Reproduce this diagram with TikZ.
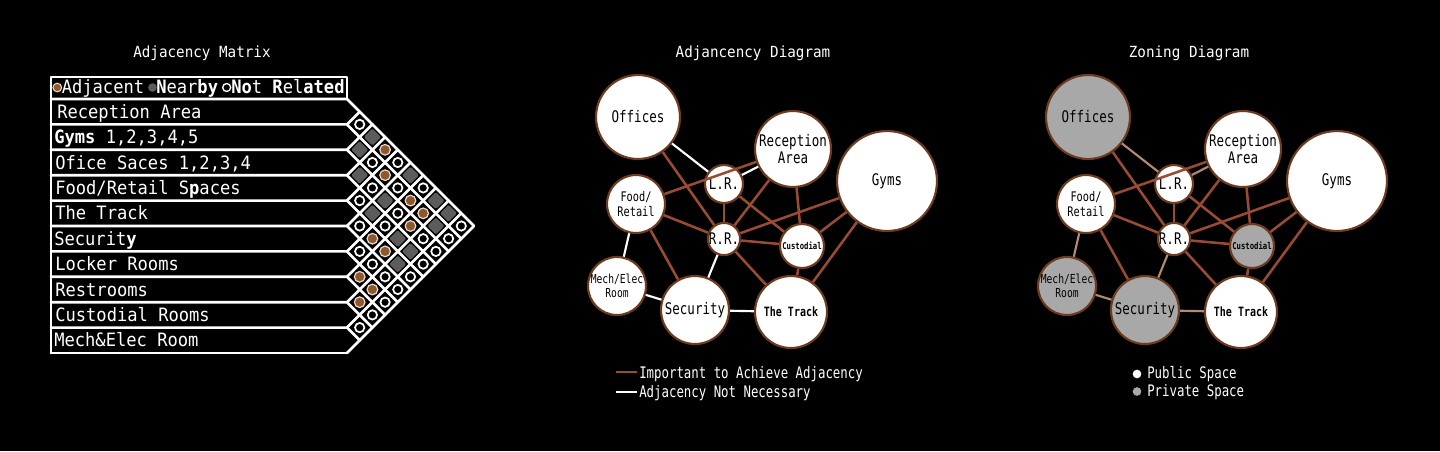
\documentclass[tikz,border=0pt]{standalone}
\usepackage{fontspec}
\setmainfont{DejaVu Sans Mono}
\newfontfamily\mono[FakeStretch=0.93]{DejaVu Sans Mono}
\newfontfamily\cmono[FakeStretch=0.78]{DejaVu Sans Mono}
\usetikzlibrary{shapes.geometric}
\definecolor{edgebrown}{HTML}{9A4B33}
\definecolor{ringbrown}{HTML}{6E3B1E}
\definecolor{adjdot}{HTML}{8A5A2A}
\definecolor{adjring}{HTML}{F3D2D2}
\definecolor{neargrey}{HTML}{5C5C5C}
\definecolor{privgrey}{HTML}{A8A8A8}
\definecolor{weaktan}{HTML}{B58A72}
\tikzset{
  gridline/.style={white, line width=2pt, line join=round, line cap=round},
  rowtext/.style={anchor=base west, inner sep=0pt, text=white, font=\mono\fontsize{13.8}{14}\selectfont},
  titletext/.style={anchor=base, inner sep=0pt, text=white, font=\mono\fontsize{11.5}{12}\selectfont},
  legendtext/.style={anchor=base west, inner sep=0pt, text=white, font=\cmono\fontsize{11.9}{12}\selectfont},
  cellX/.style={circle, draw=white, fill=black, line width=1.3pt, minimum size=7pt, inner sep=0pt},
  cellA/.style={circle, draw=adjring, fill=adjdot, line width=0.9pt, minimum size=8pt, inner sep=0pt},
  cellN/.style={diamond, aspect=1, fill=neargrey, minimum width=13pt, minimum height=13pt, inner sep=0pt, rounded corners=1pt},
  place/.style={circle, draw=ringbrown, line width=1.6pt, inner sep=0pt, text=black, align=center,
                font=\cmono\fontsize{12}{12.5}\selectfont},
  strong/.style={draw=edgebrown, line width=1.9pt},
  weak/.style={line width=1.6pt},
  keydot/.style={circle, inner sep=0pt, minimum size=6.5pt}
}
\newcommand\zdiagram[4]{%
\begin{scope}[xshift=#2]
  \node[place, minimum size=63pt, fill=#3] (#1off) at (638,117) {Offices};
  \node[place, minimum size=43.5pt, fill=white, font=\cmono\fontsize{9.9}{11.25}\selectfont] (#1food) at (636,204) {Food/\\Retail};
  \node[place, minimum size=28.5pt, fill=white] (#1lr) at (724,184) {L.R.};
  \node[place, minimum size=57pt, fill=white] (#1rec) at (793,149) {Reception\\Area};
  \node[place, minimum size=75pt, fill=white] (#1gym) at (887,181) {Gyms};
  \node[place, minimum size=24pt, fill=white] (#1rr) at (724,239) {R.R.};
  \node[place, minimum size=33pt, fill=#3, font=\cmono\bfseries\fontsize{7}{8}\selectfont] (#1cus) at (802,246) {Custodial};
  \node[place, minimum size=43.5pt, fill=#3, font=\cmono\fontsize{9.3}{10}\selectfont] (#1mech) at (617,286) {Mech/Elec\\Room};
  \node[place, minimum size=51pt, fill=#3] (#1sec) at (695,310) {Security};
  \node[place, minimum size=54pt, fill=white, font=\cmono\bfseries\fontsize{9.6}{10}\selectfont] (#1trk) at (791,312) {The Track};
  \draw[strong] (#1off) -- (#1rr);
  \draw[strong] (#1food) -- (#1rec);
  \draw[strong] (#1food) -- (#1rr);
  \draw[strong] (#1food) -- (#1sec);
  \draw[strong] (#1lr) -- (#1rr);
  \draw[strong] (#1lr) -- (#1cus);
  \draw[strong] (#1rr) -- (#1rec);
  \draw[strong] (#1rr) -- (#1gym);
  \draw[strong] (#1rr) -- (#1cus);
  \draw[strong] (#1rr) -- (#1trk);
  \draw[strong] (#1rec) -- (#1cus);
  \draw[strong] (#1gym) -- (#1cus);
  \draw[strong] (#1gym) -- (#1trk);
  \draw[strong] (#1cus) -- (#1trk);
  \draw[weak, draw=#4] (#1off) -- (#1lr);
  \draw[weak, draw=#4] (#1lr) -- (#1rec);
  \draw[weak, draw=#4] (#1food) -- (#1mech);
  \draw[weak, draw=#4] (#1mech) -- (#1sec);
  \draw[weak, draw=#4] (#1sec) -- (#1rr);
  \draw[weak, draw=#4] (#1sec) -- (#1trk);
\end{scope}}
\begin{document}
\begin{tikzpicture}[x=0.75pt, y=-0.75pt]
\fill[black] (0,0) rectangle (1440,451);
\useasboundingbox (0,0) rectangle (1440,451);

% titles
\node[titletext] (title1) at (202,57) {Adjacency Matrix};
\node[titletext] (title2) at (753,57) {Adjancency Diagram};
\node[titletext] (title3) at (1189,57) {Zoning Diagram};

% ---------- adjacency matrix ----------
\def\hh{25.4}
\draw[gridline] (51,353) -- (51,77) -- (347,77) -- (347,99);
\foreach \k in {0,...,10} {
  \pgfmathsetmacro\bk{99+\k*\hh}
  \pgfmathsetmacro\dn{(353-\bk)/2}
  \pgfmathsetmacro\up{(\bk-99)/2}
  \draw[gridline] (51,\bk) -- (347,\bk) -- ++(\dn,\dn);
  \draw[gridline] (347,\bk) -- ++(\up,-\up);
}
% header key
\node[keydot, fill=adjdot, draw=adjring, line width=0.8pt] (keyA) at (57.3,87.5) {};
\node[rowtext] (keyAt) at (61.5,93.3) {Adjacent};
\node[keydot, fill=neargrey] (keyN) at (152.5,87.5) {};
\node[rowtext] (keyNt) at (156,93.3) {\textbf{N}ear\textbf{by}};
\node[keydot, draw=white, fill=black, line width=1pt, minimum size=6pt] (keyX) at (226.7,87.5) {};
\node[rowtext] (keyXt) at (231,93.3) {\textbf{No}t \textbf{R}el\textbf{ated}};
% row labels
\node[rowtext] (r1) at (57,118.3) {Reception Area};
\node[rowtext] (r2) at (54,143.7) {\textbf{Gyms} 1,2,3,4,5};
\node[rowtext] (r3) at (55,169.1) {Ofice Saces 1,2,3,4};
\node[rowtext] (r4) at (55,194.5) {Food/Retail S\textbf{p}aces};
\node[rowtext] (r5) at (55,219.9) {The Track};
\node[rowtext] (r6) at (54,245.3) {Securit\textbf{y}};
\node[rowtext] (r7) at (55,270.7) {Locker Rooms};
\node[rowtext] (r8) at (55,296.1) {Restrooms};
\node[rowtext] (r9) at (55,321.5) {Custodial Rooms};
\node[rowtext] (r10) at (54,346.9) {Mech\&Elec Room};
% cells
\foreach \i/\j in {1/2,1/5,1/7,1/10,2/4,2/6,2/10,3/5,3/7,3/9,3/10,4/5,4/7,4/10,5/6,5/10,6/7,6/8,6/9,6/10,7/10,8/10,9/10} {
  \pgfmathsetmacro\cx{347+(\j-\i)*\hh/2}
  \pgfmathsetmacro\cy{99+((\i+\j)/2-0.5)*\hh}
  \node[cellX] (m\i-\j) at (\cx,\cy) {};
}
\foreach \i/\j in {1/3,1/6,1/8,1/9,2/3,2/9,3/4,3/6,4/6,4/8,4/9,5/9} {
  \pgfmathsetmacro\cx{347+(\j-\i)*\hh/2}
  \pgfmathsetmacro\cy{99+((\i+\j)/2-0.5)*\hh}
  \node[cellN] (m\i-\j) at (\cx,\cy) {};
}
\foreach \i/\j in {1/4,2/5,2/7,2/8,3/8,5/7,5/8,7/8,7/9,8/9} {
  \pgfmathsetmacro\cx{347+(\j-\i)*\hh/2}
  \pgfmathsetmacro\cy{99+((\i+\j)/2-0.5)*\hh}
  \node[cellA] (m\i-\j) at (\cx,\cy) {};
}

% ---------- adjacency diagram ----------
\zdiagram{a}{0pt}{white}{white}
\coordinate (lg1a) at (616,372);
\coordinate (lg1b) at (637,372);
\draw[strong] (lg1a) -- (lg1b);
\node[legendtext] (lg1t) at (639,378.3) {Important to Achieve Adjacency};
\coordinate (lg2a) at (616,392);
\coordinate (lg2b) at (637,392);
\draw[weak, white] (lg2a) -- (lg2b);
\node[legendtext] (lg2t) at (639,397.5) {Adjacency Not Necessary};

% ---------- zoning diagram ----------
\zdiagram{z}{337.5pt}{privgrey}{weaktan}
\node[keydot, fill=white] (pubdot) at (1137,374) {};
\node[legendtext] (pubt) at (1147,378.3) {Public Space};
\node[keydot, fill=privgrey] (privdot) at (1137,391.5) {};
\node[legendtext] (privt) at (1147,396.7) {Private Space};
\end{tikzpicture}
\end{document}
